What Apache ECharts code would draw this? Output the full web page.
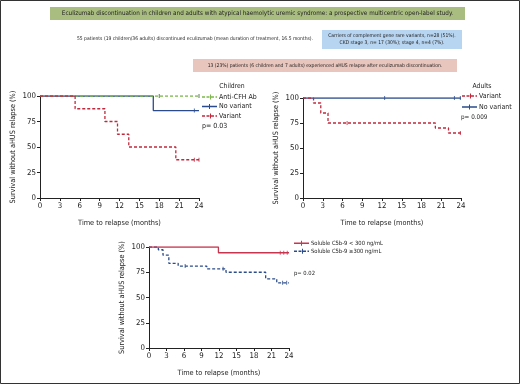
<!DOCTYPE html>
<html>
<head>
<meta charset="utf-8">
<script src="https://cdn.jsdelivr.net/npm/echarts@6/dist/echarts.min.js"></script>
<style>
	html, body { margin: 0; padding: 0; background: #fff; }
	#main { width: 520px; height: 384px; }
</style>
</head>
<body>
<div id="main"></div>
<script>
// 横轴刻度（月）
var monthTicks = [0, 3, 6, 9, 12, 15, 18, 21, 24];

// 儿童组
var childAntiCfh = [[0, 100], [24, 100]];
var childAntiCfhCens = [[18, 100], [24, 100]];
var childNoVariant = [[0, 100], [17.1, 85.7], [24, 85.7]];
var childNoVariantCens = [[23.3, 85.7]];
var childVariant = [[0, 100], [5.3, 87.5], [9.8, 75], [11.7, 62.5], [13.4, 50], [20.5, 37.5], [24, 37.5]];
var childVariantCens = [[23.3, 37.5], [24, 37.5]];

// 成人组
var adultVariant = [[0, 100], [1.6, 95], [2.7, 85], [3.8, 75], [20.1, 70], [22.1, 65], [24, 65]];
var adultVariantCens = [[6.7, 75], [23.9, 65]];
var adultNoVariant = [[0, 100], [24, 100]];
var adultNoVariantCens = [[12.4, 100], [23, 100], [23.9, 100]];

// 可溶性 C5b-9
var lowC5b9 = [[0, 100], [11.9, 94.3], [24, 94.3]];
var lowC5b9Cens = [[22.5, 94.3], [23.1, 94.3], [23.7, 94.3]];
var highC5b9 = [[0, 100], [1.6, 97.3], [2.4, 91.9], [3.4, 83.8], [5.0, 81.1], [9.9, 78.4], [13.2, 75], [20, 68.5], [21.9, 64.5], [24, 64.5]];
var highC5b9Cens = [[6.2, 81.1], [12.7, 78.4], [22.9, 64.5], [23.6, 64.5]];

var FONT = "'Liberation Sans Narrow', 'DejaVu Sans Condensed', sans-serif";
var RED = '#c1283c';
var BLUE = '#2b4c8c';
var GREEN = '#7cb84a';
var CRIMSON = '#c8354f';

// 图例图标：实线/虚线 + 删失刻度
var ICON_SOLID = 'path://M0,1.85h15v1.3h-15z M7,0h1v5h-1z';
var ICON_DASH = 'path://M0,1.85h3v1.3h-3z M4.5,1.85h3v1.3h-3z M9,1.85h3v1.3h-3z M13.5,1.85h1.5v1.3h-1.5z M8,0h1v5h-1z';

var kmChart = {
	xAxisOf : function(gi) {
		return {
			gridIndex: gi, type: 'value', min: 0, max: 24, interval: 3,
			name: 'Time to relapse (months)', nameLocation: 'middle', nameGap: 22,
			nameTextStyle: {fontFamily: FONT, fontSize: 7.3, color: '#222'},
			axisLine: {lineStyle: {color: '#222', width: 1}},
			axisTick: {length: 3, lineStyle: {color: '#222'}},
			axisLabel: {fontFamily: FONT, fontSize: 7.8, color: '#222', margin: 4,
				formatter: function(v) { return monthTicks.indexOf(v) >= 0 ? String(v) : ''; }},
			splitLine: {show: false}
		};
	},
	yAxisOf : function(gi) {
		return {
			gridIndex: gi, type: 'value', min: 0, max: 100, interval: 25,
			name: 'Survival without aHUS relapse (%)', nameLocation: 'middle', nameGap: 23,
			nameTextStyle: {fontFamily: FONT, fontSize: 7.3, color: '#222'},
			axisLine: {show: true, lineStyle: {color: '#222', width: 1}},
			axisTick: {show: true, length: 3, lineStyle: {color: '#222'}},
			axisLabel: {fontFamily: FONT, fontSize: 7.8, color: '#222', margin: 4},
			splitLine: {show: false}
		};
	},
	line : function(name, data, gi, color, dashed, z) {
		return {
			name: name, type: 'line', step: 'end', data: data,
			xAxisIndex: gi, yAxisIndex: gi, symbol: 'none', z: z || 2,
			lineStyle: {color: color, width: 1.3, type: dashed ? [3, 2] : 'solid'},
			itemStyle: {color: color},
			animation: false
		};
	},
	cens : function(data, gi, color, z) {
		return {
			type: 'scatter', data: data, xAxisIndex: gi, yAxisIndex: gi,
			symbol: 'rect', symbolSize: [1, 4], z: z || 3,
			itemStyle: {color: color}, silent: true, animation: false
		};
	},
	legendOf : function(items, left, top, fs, lh, gap) {
		return {
			data: items, orient: 'vertical', left: left, top: top, padding: 0,
			itemWidth: 15, itemHeight: 5, itemGap: gap,
			textStyle: {fontFamily: FONT, fontSize: fs, lineHeight: lh, color: '#222', padding: [0, 0, 0, -3]}
		};
	},
	boxText : function(x, y, w, h, fill, lines, fs) {
		return {
			type: 'group', children: [
				{type: 'rect', shape: {x: x, y: y, width: w, height: h}, style: {fill: fill}},
				{type: 'text', x: x + w / 2, y: y + h / 2, style: {
					text: lines, fontFamily: FONT, fontSize: fs, fill: '#222',
					align: 'center', verticalAlign: 'middle', lineHeight: fs + 2}}
			]
		};
	},
	label : function(x, y, text, fs, align) {
		return {type: 'text', x: x, y: y, style: {text: text, fontFamily: FONT, fontSize: fs,
			fill: '#222', align: align || 'left', verticalAlign: 'middle'}};
	}
};

var myChart = echarts.init(document.getElementById('main'), null, {renderer: 'canvas'});
var option = {
	backgroundColor: '#fff',
	animation: false,
	grid: [
		{left: 40, top: 96, width: 159, height: 102},
		{left: 303, top: 98, width: 158, height: 100},
		{left: 149, top: 247, width: 140, height: 101}
	],
	xAxis: [kmChart.xAxisOf(0), kmChart.xAxisOf(1), kmChart.xAxisOf(2)],
	yAxis: [kmChart.yAxisOf(0), kmChart.yAxisOf(1), kmChart.yAxisOf(2)],
	legend: [
		kmChart.legendOf([
			{name: 'Anti-CFH Ab', icon: ICON_DASH},
			{name: 'No variant', icon: ICON_SOLID},
			{name: 'Variant', icon: ICON_DASH}
		], 202, 93, 7, 8, 1.5),
		kmChart.legendOf([
			{name: 'Variant', icon: ICON_DASH},
			{name: 'No variant', icon: ICON_SOLID}
		], 462, 92, 7, 8, 3),
		kmChart.legendOf([
			{name: 'Soluble C5b-9 < 300 ng/mL', icon: ICON_SOLID},
			{name: 'Soluble C5b-9 \u2265300 ng/mL', icon: ICON_DASH}
		], 294, 240, 5.8, 6.5, 1.5)
	],
	graphic: [
		{type: 'rect', shape: {x: 0.5, y: 0.5, width: 519, height: 383}, style: {fill: 'none', stroke: '#333', lineWidth: 1}},
		kmChart.boxText(50, 7, 415, 13, '#a9bd80',
			'Eculizumab discontinuation in children and adults with atypical haemolytic uremic syndrome: a prospective multicentric open-label study.', 6.3),
		kmChart.label(195, 39, '55 patients (19 children/36 adults) discontinued eculizumab (mean duration of treatment, 16.5 months).', 5, 'center'),
		kmChart.boxText(322, 30, 140, 19, '#b7d4f0',
			'Carriers of complement gene rare variants, n=28 (51%).\nCKD stage 3, n= 17 (30%); stage 4, n=4 (7%).', 5),
		kmChart.boxText(193, 59, 264, 13, '#e9c6bd',
			'13 (23%) patients (6 children and 7 adults) experienced aHUS relapse after eculizumab discontinuation.', 5),
		kmChart.label(232, 86, 'Children', 6.8, 'center'),
		kmChart.label(202, 126, 'p= 0.03', 7),
		kmChart.label(482, 86, 'Adults', 6.8, 'center'),
		kmChart.label(461, 117, 'p= 0.009', 6.3),
		kmChart.label(294, 273, 'p= 0.02', 5.8)
	],
	series: [
		kmChart.line('No variant', childNoVariant, 0, BLUE, false, 2),
		kmChart.cens(childNoVariantCens, 0, BLUE),
		kmChart.line('Anti-CFH Ab', childAntiCfh, 0, GREEN, true, 3),
		kmChart.cens(childAntiCfhCens, 0, '#3a5a2a'),
		kmChart.line('Variant', childVariant, 0, RED, true, 4),
		kmChart.cens(childVariantCens, 0, RED),

		kmChart.line('Variant', adultVariant, 1, RED, true, 3),
		kmChart.cens(adultVariantCens, 1, RED),
		kmChart.line('No variant', adultNoVariant, 1, BLUE, false, 2),
		kmChart.cens(adultNoVariantCens, 1, BLUE),

		kmChart.line('Soluble C5b-9 \u2265300 ng/mL', highC5b9, 2, BLUE, true, 2),
		kmChart.cens(highC5b9Cens, 2, BLUE),
		kmChart.line('Soluble C5b-9 < 300 ng/mL', lowC5b9, 2, CRIMSON, false, 3),
		kmChart.cens(lowC5b9Cens, 2, CRIMSON)
	]
};
myChart.setOption(option);
</script>
</body>
</html>
